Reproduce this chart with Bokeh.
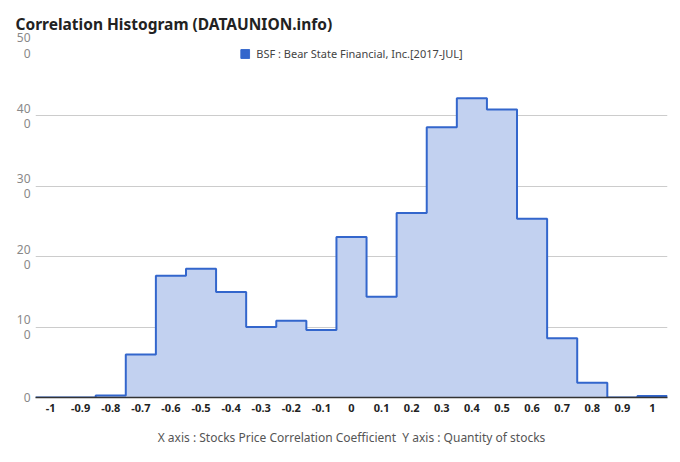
import numpy as np
from bokeh.plotting import figure
from bokeh.models import (FixedTicker, ColumnDataSource, Legend, LegendItem, Range1d)
from bokeh.embed import file_html
from bokeh.resources import INLINE

# ---- data ----
centers = [-1.0, -0.9, -0.8, -0.7, -0.6, -0.5, -0.4, -0.3, -0.2, -0.1, 0.0,
           0.1, 0.2, 0.3, 0.4, 0.5, 0.6, 0.7, 0.8, 0.9, 1.0]
counts = [0, 0, 3, 61, 173, 183, 150, 100, 109, 96, 228,
          143, 262, 384, 425, 409, 254, 84, 21, 0, 2]
x_tick_labels = ["-1", "-0.9", "-0.8", "-0.7", "-0.6", "-0.5", "-0.4", "-0.3", "-0.2", "-0.1", "0",
                 "0.1", "0.2", "0.3", "0.4", "0.5", "0.6", "0.7", "0.8", "0.9", "1"]
y_ticks = [0, 100, 200, 300, 400, 500]
y_tick_labels = ["0", "10\n0", "20\n0", "30\n0", "40\n0", "50\n0"]
series_name = "BSF : Bear State Financial, Inc.[2017-JUL]"
title_text = "Correlation Histogram (DATAUNION.info)"
x_label = "X axis : Stocks Price Correlation Coefficient \u00a0Y axis : Quantity of stocks"

FONT = "Noto Sans"
LINE = "#3366cc"
FILL = "#c2d1f0"

c = np.array(centers)
half = 0.05
edges = list(c - half) + [c[-1] + half]
vals = list(counts) + [counts[-1]]
src = ColumnDataSource(dict(x=edges, y=vals, y0=[0] * len(edges)))

p = figure(width=672, height=454, output_backend="svg", toolbar_location=None,
           x_range=Range1d(edges[0], edges[-1]), y_range=Range1d(0, 500),
           min_border_left=35, min_border_right=5, min_border_top=44, min_border_bottom=57)
p.outline_line_color = None
p.background_fill_color = "white"

p.title.text = title_text
p.title.text_font = FONT
p.title.text_font_size = "15.5px"
p.title.text_font_style = "bold"
p.title.text_color = "#222222"
p.title.offset = -20
p.title.standoff = 21

p.varea_step(x="x", y1="y0", y2="y", step_mode="after", source=src, fill_color=FILL, fill_alpha=1.0)
p.step(x="x", y="y", mode="after", source=src, line_color=LINE, line_width=2)

# legend swatch from a non-drawn renderer (NaN quad)
dummy = p.quad(left=[np.nan], right=[np.nan], top=[np.nan], bottom=[np.nan],
               fill_color=LINE, line_color=LINE)
legend = Legend(items=[LegendItem(label=series_name, renderers=[dummy])],
                location="top_center", orientation="horizontal",
                glyph_width=11, glyph_height=11, label_height=12,
                label_text_font=FONT,
                label_text_font_size="11px", label_text_color="#444444",
                border_line_color=None, background_fill_alpha=0,
                padding=0, margin=1, spacing=4, label_standoff=6)
p.add_layout(legend)

# x axis
p.xaxis.ticker = FixedTicker(ticks=centers)
p.xaxis.major_label_overrides = {cv: lab for cv, lab in zip(centers, x_tick_labels)}
p.xaxis.major_tick_line_color = None
p.xaxis.major_tick_out = 0
p.xaxis.major_tick_in = 0
p.xaxis.minor_tick_line_color = None
p.xaxis.axis_line_color = "#333333"
p.xaxis.axis_line_width = 1.5
p.xaxis.major_label_text_font = FONT
p.xaxis.major_label_text_font_size = "11px"
p.xaxis.major_label_text_font_style = "bold"
p.xaxis.major_label_text_color = "#222222"
p.xaxis.major_label_standoff = 6
p.xaxis.axis_label = x_label
p.xaxis.axis_label_text_font = FONT
p.xaxis.axis_label_text_font_size = "12px"
p.xaxis.axis_label_text_font_style = "normal"
p.xaxis.axis_label_text_color = "#555555"
p.xaxis.axis_label_standoff = 14

# y axis
p.yaxis.ticker = FixedTicker(ticks=y_ticks)
p.yaxis.major_label_overrides = {t: lab for t, lab in zip(y_ticks, y_tick_labels)}
p.yaxis.axis_line_color = None
p.yaxis.major_tick_line_color = None
p.yaxis.major_tick_out = 0
p.yaxis.major_tick_in = 0
p.yaxis.minor_tick_line_color = None
p.yaxis.major_label_text_font = FONT
p.yaxis.major_label_text_font_size = "12px"
p.yaxis.major_label_text_color = "#888888"
p.yaxis.major_label_standoff = 5
p.yaxis.major_label_text_line_height = 0.9

p.xgrid.grid_line_color = None
p.ygrid.grid_line_color = "#cccccc"
p.ygrid.ticker = FixedTicker(ticks=y_ticks[1:])

open("out.html", "w").write(file_html(p, INLINE))
